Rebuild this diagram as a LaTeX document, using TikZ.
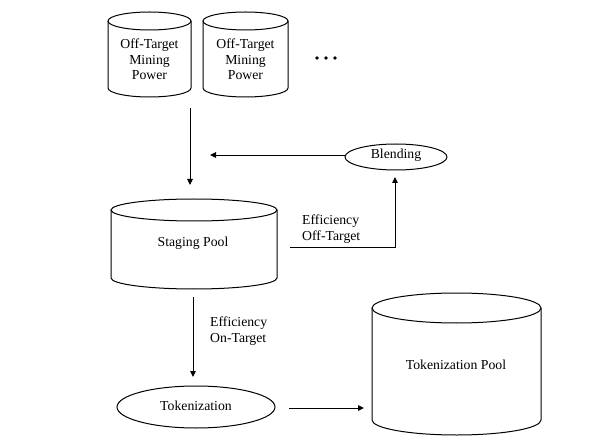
\documentclass[tikz,border=0pt]{standalone}
\usepackage{fontspec}
\setmainfont{Liberation Serif}
\usetikzlibrary{arrows.meta}
\newcommand\drawcyl[5]{%
  \draw[cylline] (#1,#2) ellipse[x radius=#4, y radius=#5];
  \draw[cylline] (#1-#4,#2) -- (#1-#4,#3) arc[start angle=180,end angle=0,x radius=#4,y radius=#5] -- (#1+#4,#2);
}
\begin{document}
\begin{tikzpicture}[x=1bp,y=-1bp,
  cylline/.style={line width=1bp,black},
  lbl/.style={font=\fontsize{13.8}{15.5}\selectfont,align=center,inner sep=0pt},
  lbll/.style={font=\fontsize{13.8}{16}\selectfont,align=left,inner sep=0pt,anchor=west},
  conn/.style={line width=0.9bp,-{Triangle[length=6bp,width=5.5bp]}},
  dot/.style={fill=black,circle,inner sep=0pt,minimum size=3.6bp}]
\useasboundingbox (0,0) rectangle (612,440);
\fill[white] (0,0) rectangle (612,440);
% cylinders
\drawcyl{149.5}{21}{88}{41.5}{9}
\drawcyl{245.5}{21}{88}{42.5}{9}
\drawcyl{194}{210}{278}{83}{11}
\drawcyl{456.5}{308}{420}{84.5}{15}
\node[lbl] (m1) at (149.5,59.5) {Off-Target\\Mining\\Power};
\node[lbl] (m2) at (245.5,59.5) {Off-Target\\Mining\\Power};
\node[dot] (d1) at (317,58) {};
\node[dot] (d2) at (326,58) {};
\node[dot] (d3) at (335,58) {};
\node[lbl] (sp) at (193,243) {Staging Pool};
\node[lbl] (tp) at (456,365) {Tokenization Pool};
% ellipses
\draw[line width=1bp] (396,157) ellipse[x radius=51, y radius=13];
\node[lbl] (bl) at (396,155) {Blending};
\draw[line width=1bp] (196,407) ellipse[x radius=79, y radius=21];
\node[lbl] (tk) at (196,406) {Tokenization};
% labels
\node[lbll] (eoff) at (302,229) {Efficiency\\Off-Target};
\node[lbll] (eon) at (210,331) {Efficiency\\On-Target};
% connector endpoints
\coordinate (a1s) at (190,108);
\coordinate (a1e) at (190,185);
\coordinate (a2s) at (345,155);
\coordinate (a2e) at (210,155);
\coordinate (a3s) at (290,247);
\coordinate (a3e) at (395,177);
\coordinate (a4s) at (193,297);
\coordinate (a4e) at (193,377);
\coordinate (a5s) at (289,408);
\coordinate (a5e) at (364,408);
\draw[conn] (a1s) -- (a1e);
\draw[conn] (a2s) -- (a2e);
\draw[conn] (a3s) -| (a3e);
\draw[conn] (a4s) -- (a4e);
\draw[conn] (a5s) -- (a5e);
\end{tikzpicture}
\end{document}
